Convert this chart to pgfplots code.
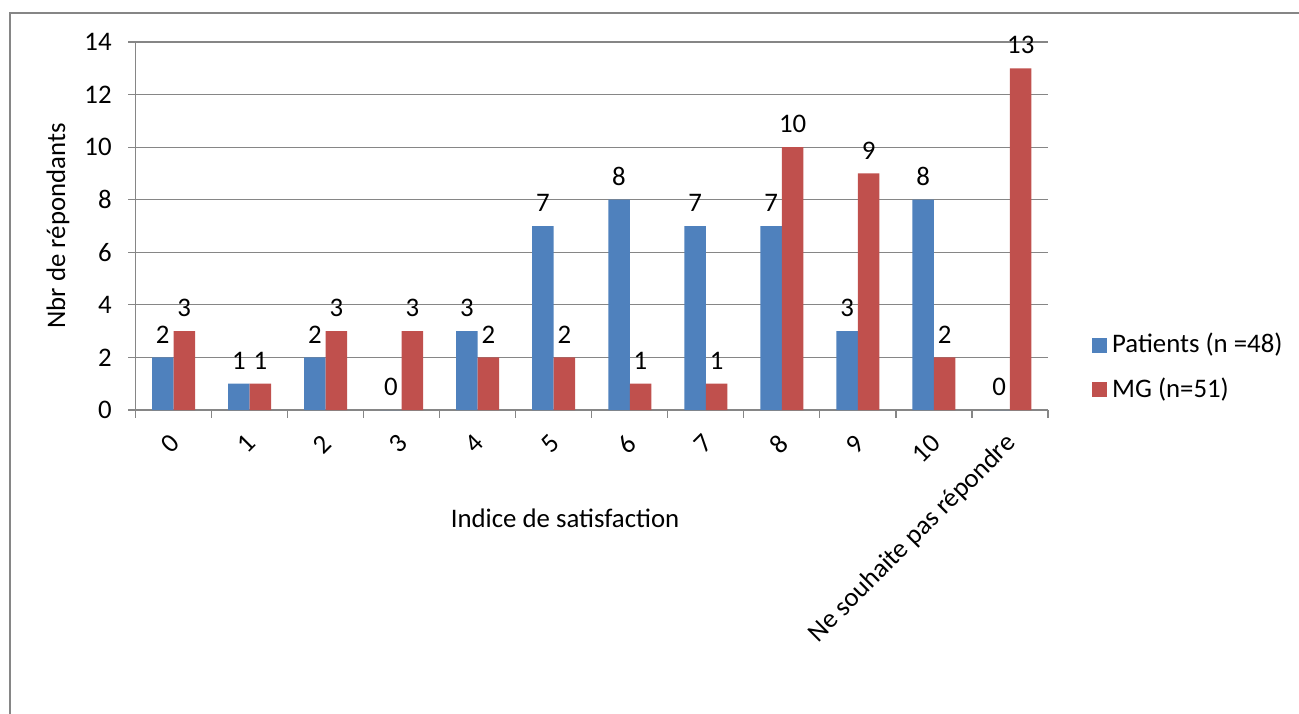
\documentclass[border=0pt]{standalone}
\usepackage{fontspec}
\setmainfont{Carlito}
\usepackage{pgfplots}
\pgfplotsset{compat=1.18}
\definecolor{barblue}{RGB}{79,129,189}
\definecolor{barred}{RGB}{192,80,77}
\definecolor{axgray}{RGB}{134,134,134}
\newcommand{\cf}{\fontsize{13.4}{16}\selectfont}
\begin{document}
\begin{tikzpicture}
\cf
\useasboundingbox (0,0) rectangle (649.5pt,-356.5pt);
% chart frame, only left and top edges fall inside the picture
\draw[axgray, line width=1pt] (5pt,-400pt) -- (5pt,-6.25pt) -- (700pt,-6.25pt);
\begin{axis}[
    at={(67.75pt,-205pt)}, anchor=south west,
    scale only axis, width=456.25pt, height=184pt,
    ybar=0pt, bar width=10.75pt,
    xmin=-0.5, xmax=11.5, ymin=0, ymax=14,
    axis x line=bottom, axis y line=left,
    axis line style={axgray, line width=0.6pt, -},
    ytick={0,2,...,14},
    ymajorgrids, grid style={axgray, line width=0.6pt},
    tick align=outside, major tick length=3.75pt,
    tick style={axgray, line width=0.6pt},
    xtick={-0.5,0.5,...,11.5}, xticklabels={},
    extra x ticks={0,...,11},
    extra x tick labels={0,1,2,3,4,5,6,7,8,9,10,Ne souhaite pas répondre},
    extra x tick style={major tick length=0pt, grid=none},
    xticklabel style={inner sep=0pt, yshift=-14.5pt, xshift=1pt, rotate=45, anchor=east, font=\cf},
    yticklabel style={inner sep=0pt, xshift=-8pt, font=\cf},
    /pgf/number format/assume math mode=true,
    xlabel={Indice de satisfaction},
    xlabel style={at={(axis description cs:0.4707,0)}, anchor=center, yshift=-54pt, font=\cf},
    ylabel={Nbr de répondants},
    ylabel style={at={(axis description cs:-0.0849,0.5)}, anchor=center, font=\cf},
    nodes near coords,
    nodes near coords style={font=\cf, inner sep=0pt, yshift=7pt, black},
    legend style={draw=none, fill=none, at={(axis description cs:1.0479,0.1155)}, anchor=west,
        inner sep=0pt, row sep=10.5pt, column sep=2.5pt, font=\cf,
        nodes={inner sep=0pt, anchor=west}},
    legend cell align=left,
]
\addplot[fill=barblue, draw=none,
    legend image code/.code={\fill[barblue] (0pt,-3.75pt) rectangle (7.5pt,3.75pt);}]
    coordinates {(0,2) (1,1) (2,2) (3,0) (4,3) (5,7) (6,8) (7,7) (8,7) (9,3) (10,8) (11,0)};
\addplot[fill=barred, draw=none,
    legend image code/.code={\fill[barred] (0pt,-3.75pt) rectangle (7.5pt,3.75pt);}]
    coordinates {(0,3) (1,1) (2,3) (3,3) (4,2) (5,2) (6,1) (7,1) (8,10) (9,9) (10,2) (11,13)};
\legend{Patients (n =48), MG (n=51)}
\end{axis}
\end{tikzpicture}
\end{document}
